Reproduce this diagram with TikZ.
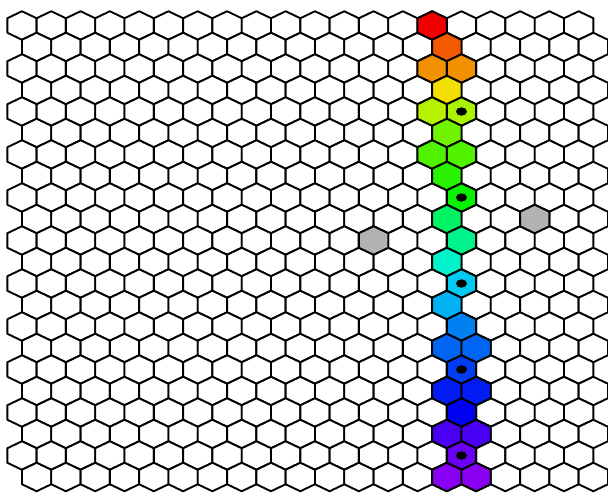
\PassOptionsToPackage{rgb}{xcolor}
\documentclass[tikz,border=0pt]{standalone}
\tikzset{
  hexcell/.pic={\path[pic actions] (0,-14.25) -- (14.65,-7.25) -- (14.65,7.25) -- (0,14.25) -- (-14.65,7.25) -- (-14.65,-7.25) -- cycle;},
  cell/.style={draw=black,line width=0.95pt,line join=round},
  dot/.style={fill=black}
}
\begin{document}
\begin{tikzpicture}[x=0.5pt,y=-0.5pt]
\useasboundingbox (0,0) rectangle (608,492);
% plain grid
\foreach \r in {0,...,21}{
  \pgfmathsetmacro{\off}{mod(\r,2)*14.65}
  \foreach \c in {0,...,19}
    \pic[cell,fill=white] at ({21.95+\off+29.3*\c},{25.5+21.5*\r}) {hexcell};
}
% path cells, hue by row
\foreach \r/\c/\h in {0/14/0, 1/14/22, 2/14/36, 2/15/36, 3/14/55, 4/14/75, 4/15/78,
    5/14/92, 6/14/100, 6/15/100, 7/14/110, 8/15/118, 9/14/145, 10/15/155,
    11/14/170, 12/15/190, 13/14/196, 14/15/208, 15/14/215, 15/15/215,
    16/15/225, 17/14/233, 17/15/233, 18/15/240, 19/14/258, 19/15/258,
    20/15/266, 21/14/274, 21/15/274}{
  \pgfmathsetmacro{\off}{mod(\r,2)*14.65}
  \definecolor{cellfill}{Hsb}{\h,1,0.95}
  \pic[cell,fill=cellfill] at ({21.95+\off+29.3*\c},{25.5+21.5*\r}) {hexcell};
}
% grey cells
\pic[cell,fill=black!30] at ({21.95+14.65+29.3*17},{25.5+21.5*9}) {hexcell};
\pic[cell,fill=black!30] at ({21.95+29.3*12},{25.5+21.5*10}) {hexcell};
% dots
\foreach \r in {4,8,12,16,20}
  \fill[dot] ({21.95+29.3*15},{25.5+21.5*\r}) ellipse [x radius=5.5, y radius=4.2];
\end{tikzpicture}
\end{document}
